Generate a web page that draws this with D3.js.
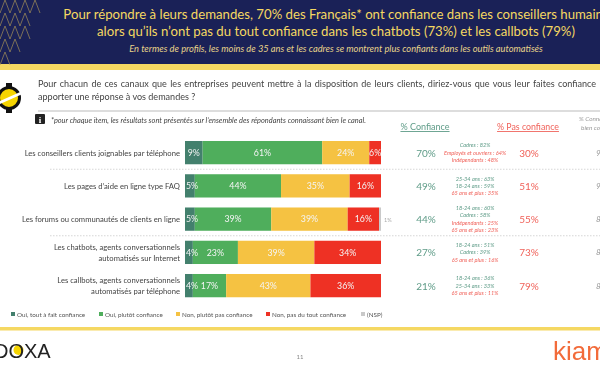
<!DOCTYPE html>
<html lang="fr">
<head>
<meta charset="UTF-8">
<title>Confiance dans les canaux clients</title>
<script src="https://d3js.org/d3.v7.min.js"></script>
<style>
  html, body { margin: 0; padding: 0; background: #fff; overflow: hidden; }
  /* la référence est une capture un peu floue */
  svg { display: block; font-family: Lato, sans-serif; filter: blur(0.3px); }
</style>
</head>
<body>
<svg id="chart" width="600" height="372"></svg>
<script>
const channels = [
  ["Les conseillers clients joignables par téléphone"],
  ["Les pages d’aide en ligne type FAQ"],
  ["Les forums ou communautés de clients en ligne"],
  ["Les chatbots, agents conversationnels", "automatisés sur Internet"],
  ["Les callbots, agents conversationnels", "automatisés par téléphone"]
];
const seriesNames = ["Oui, tout à fait confiance", "Oui, plutôt confiance", "Non, plutôt pas confiance", "Non, pas du tout confiance", "(NSP)"];
const seriesColors = ["#43806d", "#4fae5c", "#f5c242", "#ee3124", "#c9c9c9"];
const toutAFait = [9, 5, 5, 4, 4];
const plutot = [61, 44, 39, 23, 17];
const plutotPas = [24, 35, 39, 39, 43];
const pasDuTout = [6, 16, 16, 34, 36];
const nsp = [0, 0, 1, 0, 0];
const confiance = [70, 49, 44, 27, 21];
const pasConfiance = [30, 51, 55, 73, 79];
const connaissance = [97, 97, 86, 85, 83];
const profils = [
  [["Cadres : 82%", 1], ["Employés et ouvriers : 64%", 0], ["Indépendants : 48%", 0]],
  [["25-34 ans : 63%", 1], ["18-24 ans : 59%", 1], ["65 ans et plus : 35%", 0]],
  [["18-24 ans : 60%", 1], ["Cadres : 58%", 1], ["Indépendants : 25%", 0], ["65 ans et plus : 23%", 0]],
  [["18-24 ans : 51%", 1], ["Cadres : 39%", 1], ["65 ans et plus : 16%", 0]],
  [["18-24 ans : 36%", 1], ["25-34 ans : 33%", 1], ["65 ans et plus : 11%", 0]]
];

const green = "#5f9c88", red = "#f0625a";
const svg = d3.select("#chart");

// bandeau du haut
svg.append("rect").attr("width", 600).attr("height", 64).attr("fill", "#1a2157");
svg.append("rect").attr("y", 64).attr("width", 600).attr("height", 6).attr("fill", "#f5d862");

// motif doré en chevrons, en triangle dans le coin
const chevron = d3.line();
const motif = svg.append("g").attr("fill", "none").attr("stroke", "#b39c58").attr("stroke-width", 0.8).attr("opacity", 0.8);
d3.range(-1, 5).forEach(c => {
  d3.range(-1, 5).forEach(r => {
    const x0 = c * 10, y0 = r * 13;
    if (x0 + 5 < 42 - y0 * 0.55) {
      motif.append("path").attr("d", chevron([[x0, y0 + 13], [x0 + 5, y0], [x0 + 10, y0 + 13]]));
    }
  });
});

svg.append("text").attr("x", 336).attr("y", 19).attr("text-anchor", "middle")
  .attr("font-size", 13.2).attr("fill", "#f5d862")
  .text("Pour répondre à leurs demandes, 70% des Français* ont confiance dans les conseillers humains");
svg.append("text").attr("x", 336).attr("y", 35.5).attr("text-anchor", "middle")
  .attr("font-size", 13.2).attr("fill", "#f5d862")
  .text("alors qu’ils n’ont pas du tout confiance dans les chatbots (73%) et les callbots  (79%)");
svg.append("text").attr("x", 336).attr("y", 51.5).attr("text-anchor", "middle")
  .attr("font-size", 9.3).attr("font-style", "italic").attr("fill", "#e8d48a")
  .text("En termes de profils, les moins de 35 ans et les cadres se montrent plus confiants dans les outils automatisés");

// logo à gauche de la question
const logo = svg.append("g").attr("transform", "translate(9,98)");
logo.append("circle").attr("r", 10.5).attr("fill", "#f5d400").attr("stroke", "#111").attr("stroke-width", 3);
logo.append("rect").attr("x", -3).attr("y", -15).attr("width", 6).attr("height", 4).attr("fill", "#111");
logo.append("rect").attr("x", -3).attr("y", 11).attr("width", 6).attr("height", 4).attr("fill", "#111");
logo.append("path").attr("d", "M-16,6 L18,-9 L18,-6 L-16,9 Z").attr("fill", "#fff");

// question
svg.append("text").attr("x", 38).attr("y", 87).attr("font-size", 9.05).attr("word-spacing", 1).attr("fill", "#444")
  .text("Pour chacun de ces canaux que les entreprises peuvent mettre à la disposition de leurs clients, diriez-vous que vous leur faites confiance pour");
svg.append("text").attr("x", 38).attr("y", 100).attr("font-size", 9.05).attr("fill", "#444")
  .text("apporter une réponse à vos demandes ?");
svg.append("line").attr("x1", 38).attr("x2", 600).attr("y1", 111).attr("y2", 111).attr("stroke", "#bbb");

svg.append("rect").attr("x", 35).attr("y", 114).attr("width", 10).attr("height", 10).attr("rx", 1).attr("fill", "#222");
svg.append("text").attr("x", 40).attr("y", 122.5).attr("text-anchor", "middle").attr("font-size", 9)
  .attr("font-weight", 700).attr("font-family", "Liberation Serif").attr("fill", "#fff").text("i");
svg.append("text").attr("x", 51).attr("y", 123).attr("font-size", 7.4).attr("font-style", "italic").attr("fill", "#444")
  .text("*pour chaque item, les résultats sont présentés sur l’ensemble des répondants connaissant bien le canal.");

// en-têtes de colonnes
svg.append("text").attr("x", 425).attr("y", 130).attr("text-anchor", "middle").attr("font-size", 9)
  .attr("fill", green).attr("text-decoration", "underline").text("% Confiance");
svg.append("text").attr("x", 528).attr("y", 130).attr("text-anchor", "middle").attr("font-size", 8.8)
  .attr("fill", red).attr("text-decoration", "underline").text("% Pas confiance");
svg.append("text").attr("x", 579).attr("y", 121).attr("font-size", 6.4).attr("font-style", "italic").attr("fill", "#999").text("% Connaissance");
svg.append("text").attr("x", 581).attr("y", 130).attr("font-size", 6.4).attr("font-style", "italic").attr("fill", "#999").text("bien connu");

// échelles
const x = d3.scaleLinear().domain([0, 100]).range([185, 381]);
const rowIdx = d3.range(channels.length);
const y = d3.scaleBand().domain(rowIdx).range([136, 302.25]).paddingInner(0.3).paddingOuter(0.15);

const rows = rowIdx.map(i => ({
  i,
  a: toutAFait[i], b: plutot[i], c: plutotPas[i], d: pasDuTout[i], e: nsp[i]
}));
const keys = ["a", "b", "c", "d", "e"];
const stacked = d3.stack().keys(keys)(rows);

// séparateurs pointillés
[1, 3].forEach(n => {
  const ySep = (y(n - 1) + y.bandwidth() + y(n)) / 2;
  svg.append("line").attr("x1", 50).attr("x2", 600).attr("y1", ySep).attr("y2", ySep)
    .attr("stroke", "#ccc").attr("stroke-width", 0.8).attr("stroke-dasharray", "1.5,1.5");
});

// barres
const layers = svg.append("g").selectAll("g").data(stacked).join("g")
  .attr("fill", (d, k) => seriesColors[k]);
layers.selectAll("rect").data(d => d.filter(p => p[1] > p[0])).join("rect")
  .attr("x", d => x(d[0]))
  .attr("y", d => y(d.data.i))
  .attr("width", d => x(d[1]) - x(d[0]))
  .attr("height", y.bandwidth());

// valeurs dans les barres (les petits segments sont décalés vers la droite comme dans l'original)
stacked.slice(0, 4).forEach(layer => {
  svg.append("g").selectAll("text").data(layer).join("text")
    .attr("x", d => Math.max((x(d[0]) + x(d[1])) / 2, x(d[0]) + (layer.index === 0 ? 7 : 0)))
    .attr("y", d => y(d.data.i) + y.bandwidth() / 2 + 3.2)
    .attr("text-anchor", "middle").attr("font-size", 8.8).attr("fill", "#f4f4f4")
    .text(d => (d[1] - d[0]) + "%");
});
svg.append("text").attr("x", x(100) + 3).attr("y", y(2) + y.bandwidth() / 2 + 2.5)
  .attr("font-size", 5.5).attr("fill", "#aaa").text(nsp[2] + "%");

// libellés de lignes
channels.forEach((lines, i) => {
  const cy = y(i) + y.bandwidth() / 2;
  lines.forEach((t, j) => {
    svg.append("text").attr("x", 180).attr("y", cy + 3 + (j - (lines.length - 1) / 2) * 11)
      .attr("text-anchor", "end").attr("font-size", 7.65).attr("fill", "#444").text(t);
  });
});

// colonnes de droite
rowIdx.forEach(i => {
  const cy = y(i) + y.bandwidth() / 2;
  svg.append("text").attr("x", 426).attr("y", cy + 4).attr("text-anchor", "middle")
    .attr("font-size", 10).attr("fill", green).text(confiance[i] + "%");
  svg.append("text").attr("x", 529).attr("y", cy + 4).attr("text-anchor", "middle")
    .attr("font-size", 10).attr("fill", red).text(pasConfiance[i] + "%");
  svg.append("text").attr("x", 596).attr("y", cy + 3).attr("font-size", 8)
    .attr("font-style", "italic").attr("fill", "#999").text(connaissance[i] + "%");
  const lignes = profils[i];
  lignes.forEach((p, j) => {
    svg.append("text").attr("x", 475).attr("y", cy + 2 + (j - (lignes.length - 1) / 2) * 7.3)
      .attr("text-anchor", "middle").attr("font-size", 5.6).attr("font-style", "italic")
      .attr("fill", p[1] ? green : red).text(p[0]);
  });
});

// légende
const legendX = [11, 99, 176, 266, 361];
seriesNames.forEach((name, k) => {
  svg.append("rect").attr("x", legendX[k]).attr("y", 312).attr("width", 4).attr("height", 4).attr("fill", seriesColors[k]);
  svg.append("text").attr("x", legendX[k] + 6).attr("y", 316.5).attr("font-size", 6.3).attr("fill", "#555").text(name);
});

// pied de page
svg.append("rect").attr("y", 327).attr("width", 600).attr("height", 3.5).attr("fill", "#f5d862");
svg.append("circle").attr("cx", 18.5).attr("cy", 350).attr("r", 5).attr("fill", "#f5d400");
svg.append("text").attr("x", -6).attr("y", 357.5).attr("font-size", 20)
  .attr("font-family", "Liberation Sans").attr("fill", "#222").text("DOXA");
svg.append("text").attr("x", 300).attr("y", 359).attr("text-anchor", "middle").attr("font-size", 6).attr("fill", "#888").text("11");
svg.append("text").attr("x", 553).attr("y", 360).attr("font-size", 26)
  .attr("font-family", "Liberation Sans").attr("fill", "#f26b3a").text("kiamo");
</script>
</body>
</html>
